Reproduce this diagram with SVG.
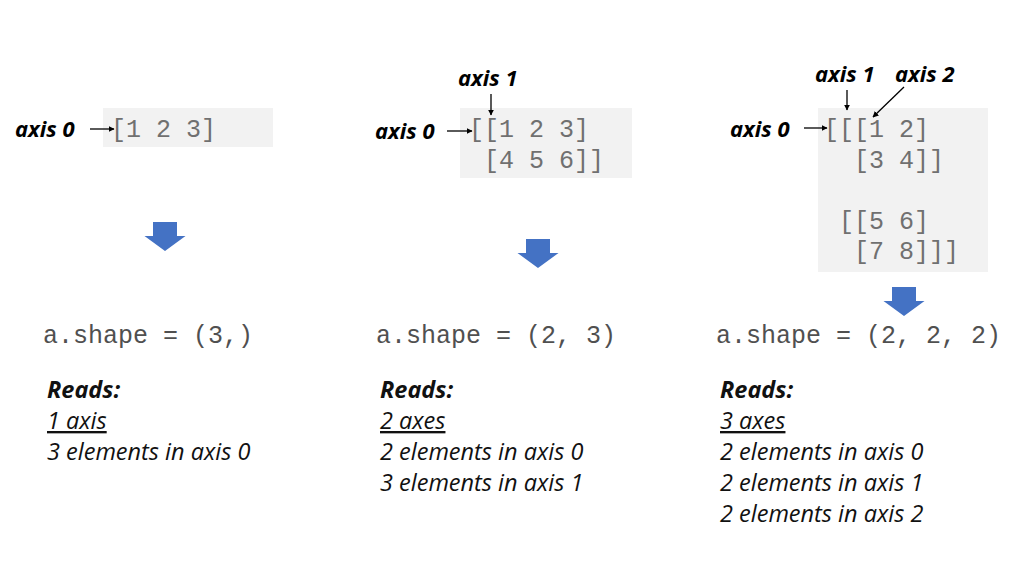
<svg xmlns="http://www.w3.org/2000/svg" width="1024" height="576" viewBox="0 0 1024 576">
<style>
.box{fill:#f2f2f2}
.mono{font-family:"Liberation Mono","Courier New",monospace;font-size:25px;fill:#707070;white-space:pre}
.shape{font-family:"Liberation Mono","Courier New",monospace;font-size:25px;fill:#505050;white-space:pre}
.lbl{font-family:"Open Sans","Noto Sans",sans-serif;font-size:22px;font-weight:bold;font-style:italic;fill:#000}
.txt{font-family:"Open Sans","Noto Sans",sans-serif;font-size:23.5px;font-style:italic;fill:#111}
.bold{font-weight:bold}
.ptr{stroke:#000;stroke-width:1.3;fill:none;marker-end:url(#ah)}
.blue{fill:#4472c4}
</style>
<defs>
<marker id="ah" viewBox="0 0 10 10" refX="9" refY="5" markerWidth="6" markerHeight="6" markerUnits="userSpaceOnUse" orient="auto">
<path d="M0,0 L10,5 L0,10 z" fill="#000"/>
</marker>
<path id="down" d="M-12,0 H12 V14 H20.5 L0,29 L-20.5,14 H-12 Z"/>
</defs>
<rect width="1024" height="576" fill="#fff"/>

<g id="panel1">
<rect class="box" x="103" y="108" width="170" height="39"/>
<text class="mono" x="111" y="137">[1 2 3]</text>
<text class="lbl" x="15" y="137">axis 0</text>
<use href="#down" class="blue" x="165" y="222"/>
<text class="shape" x="43" y="343">a.shape = (3,)</text>
<text class="txt bold" x="47" y="398">Reads:</text>
<text class="txt" x="47" y="429" text-decoration="underline">1 axis</text>
<text class="txt" x="47" y="460">3 elements in axis 0</text>
</g>

<g id="panel2">
<rect class="box" x="460" y="108" width="172" height="70"/>
<text class="mono" x="469" y="137">[[1 2 3]</text>
<text class="mono" x="469" y="168"> [4 5 6]]</text>
<text class="lbl" x="375" y="139">axis 0</text>
<text class="lbl" x="458" y="86">axis 1</text>
<use href="#down" class="blue" x="538" y="239"/>
<text class="shape" x="376" y="343">a.shape = (2, 3)</text>
<text class="txt bold" x="380" y="398">Reads:</text>
<text class="txt" x="380" y="429" text-decoration="underline">2 axes</text>
<text class="txt" x="380" y="460">2 elements in axis 0</text>
<text class="txt" x="380" y="491">3 elements in axis 1</text>
</g>

<g id="panel3">
<rect class="box" x="818" y="108" width="170" height="164"/>
<text class="mono" x="824" y="137">[[[1 2]</text>
<text class="mono" x="824" y="168">  [3 4]]</text>
<text class="mono" x="824" y="229"> [[5 6]</text>
<text class="mono" x="824" y="259">  [7 8]]]</text>
<text class="lbl" x="730" y="137">axis 0</text>
<text class="lbl" x="815" y="82">axis 1</text>
<text class="lbl" x="895" y="82">axis 2</text>
<use href="#down" class="blue" x="904" y="287"/>
<text class="shape" x="716" y="343">a.shape = (2, 2, 2)</text>
<text class="txt bold" x="720" y="398">Reads:</text>
<text class="txt" x="720" y="429" text-decoration="underline">3 axes</text>
<text class="txt" x="720" y="460">2 elements in axis 0</text>
<text class="txt" x="720" y="491">2 elements in axis 1</text>
<text class="txt" x="720" y="522">2 elements in axis 2</text>
</g>

<g id="connectors">
<line class="ptr" x1="90" y1="129" x2="114" y2="129"/>
<line class="ptr" x1="447" y1="131" x2="472" y2="131"/>
<line class="ptr" x1="491" y1="94" x2="491" y2="115"/>
<line class="ptr" x1="804" y1="128" x2="827" y2="128"/>
<line class="ptr" x1="847" y1="90" x2="847" y2="110"/>
<line class="ptr" x1="904" y1="87" x2="873" y2="117"/>
</g>
</svg>
